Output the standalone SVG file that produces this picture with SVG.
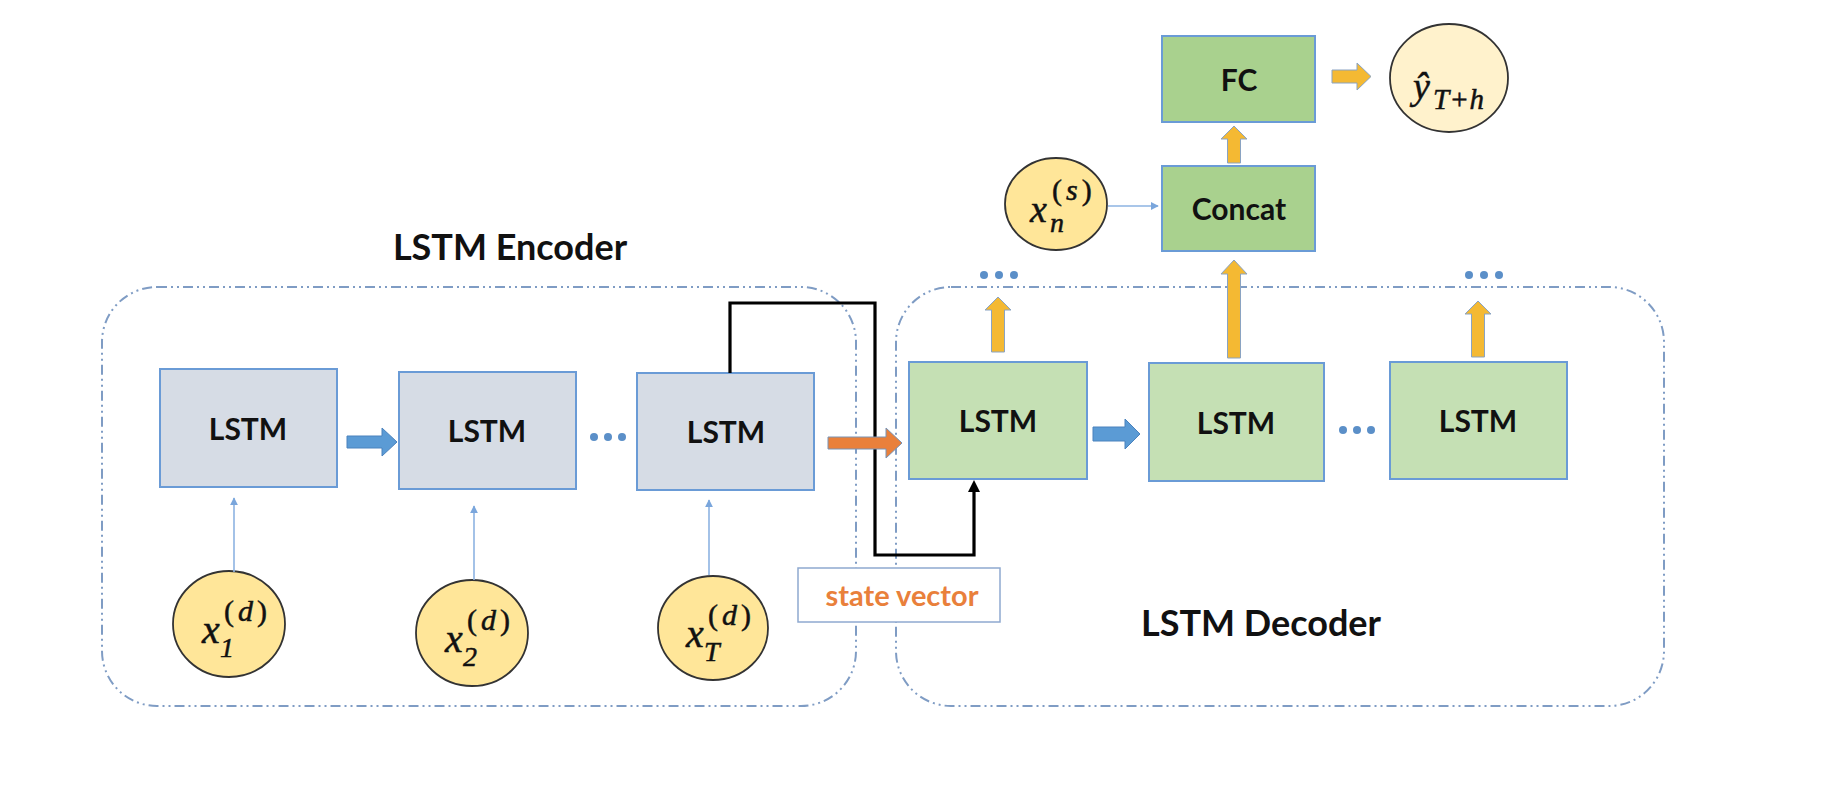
<svg xmlns="http://www.w3.org/2000/svg" width="1830" height="800" viewBox="0 0 1830 800">
<defs>
<style>
.grp{fill:none;stroke:#7f9cc4;stroke-width:2;stroke-dasharray:10 4 2 4 2 4}
.enc{fill:#d6dce5;stroke:#6a9bd6;stroke-width:2}
.dec{fill:#c5e0b4;stroke:#6a9bd6;stroke-width:2}
.top{fill:#a9d18e;stroke:#6a9bd6;stroke-width:2}
.lbl{font-family:Lato,"Liberation Sans",sans-serif;font-weight:bold;font-size:30px;fill:#111;text-anchor:middle}
.ttl{font-family:Lato,"Liberation Sans",sans-serif;font-weight:bold;font-size:36px;fill:#111;text-anchor:middle}
.circ{fill:#ffe699;stroke:#333;stroke-width:1.8}
.circ2{fill:#fff2cc;stroke:#333;stroke-width:1.8}
.math{font-family:"Liberation Serif","DejaVu Serif",serif;font-style:italic;fill:#111;stroke:#111;stroke-width:0.5}
.sup{letter-spacing:4px}
.up{font-style:normal}
.thin{stroke:#8db3e2;stroke-width:1.6;fill:none}
.blk{stroke:#000;stroke-width:3.2;fill:none}
.blue{fill:#5b9bd5;stroke:#4a82bd;stroke-width:1}
.orng{fill:#e9803b;stroke:#7893b5;stroke-width:1}
.yel{fill:#f4b933;stroke:#8aa3c2;stroke-width:1}
.dot{fill:#5b8fc8}
</style>
<marker id="th" viewBox="0 0 10 10" refX="9" refY="5" markerWidth="8" markerHeight="8" markerUnits="userSpaceOnUse" orient="auto"><path d="M0,0 L10,5 L0,10 Z" fill="#7aa6dc"/></marker>
</defs>
<rect width="1830" height="800" fill="#fff"/>

<g id="encoder-group">
<rect class="grp" x="102" y="287" width="754" height="419" rx="55"/>
<text class="ttl" x="510" y="260">LSTM Encoder</text>
</g>
<g id="decoder-group">
<rect class="grp" x="896" y="287" width="768" height="419" rx="55"/>
<text class="ttl" x="1261" y="636">LSTM Decoder</text>
</g>

<g id="enc1"><rect class="enc" x="160" y="369" width="177" height="118"/><text class="lbl" x="248" y="440">LSTM</text></g>
<g id="enc2"><rect class="enc" x="399" y="372" width="177" height="117"/><text class="lbl" x="487" y="442">LSTM</text></g>
<g id="enc3"><rect class="enc" x="637" y="373" width="177" height="117"/><text class="lbl" x="726" y="443">LSTM</text></g>

<g id="dec1"><rect class="dec" x="909" y="362" width="178" height="117"/><text class="lbl" x="998" y="432">LSTM</text></g>
<g id="dec2"><rect class="dec" x="1149" y="363" width="175" height="118"/><text class="lbl" x="1236" y="434">LSTM</text></g>
<g id="dec3"><rect class="dec" x="1390" y="362" width="177" height="117"/><text class="lbl" x="1478" y="432">LSTM</text></g>

<g id="concat"><rect class="top" x="1162" y="166" width="153" height="85"/><text class="lbl" x="1239" y="220">Concat</text></g>
<g id="fc"><rect class="top" x="1162" y="36" width="153" height="86"/><text class="lbl" x="1239" y="91">FC</text></g>

<g id="x1"><ellipse class="circ" cx="229" cy="624" rx="56" ry="53"/>
<text class="math" x="202" y="643" font-size="40">x</text>
<text class="math sup" x="224" y="621" font-size="30"><tspan class="up">(</tspan>d<tspan class="up">)</tspan></text>
<text class="math" x="220" y="657" font-size="28">1</text></g>
<g id="x2"><ellipse class="circ" cx="472" cy="633" rx="56" ry="53"/>
<text class="math" x="445" y="652" font-size="40">x</text>
<text class="math sup" x="467" y="630" font-size="30"><tspan class="up">(</tspan>d<tspan class="up">)</tspan></text>
<text class="math" x="463" y="666" font-size="28">2</text></g>
<g id="xT"><ellipse class="circ" cx="713" cy="628" rx="55" ry="52"/>
<text class="math" x="686" y="647" font-size="40">x</text>
<text class="math sup" x="708" y="625" font-size="30"><tspan class="up">(</tspan>d<tspan class="up">)</tspan></text>
<text class="math" x="704" y="661" font-size="28">T</text></g>
<g id="xs"><ellipse class="circ" cx="1056" cy="204" rx="51" ry="46"/>
<text class="math" x="1030" y="222" font-size="38">x</text>
<text class="math sup" x="1052" y="200" font-size="30"><tspan class="up">(</tspan>s<tspan class="up">)</tspan></text>
<text class="math" x="1050" y="232" font-size="28">n</text></g>
<g id="yhat"><ellipse class="circ2" cx="1449" cy="78" rx="59" ry="54"/>
<text class="math" x="1413" y="99" font-size="38">ŷ</text>
<text class="math" x="1433" y="109" font-size="29" letter-spacing="2">T<tspan class="up">+</tspan>h</text></g>

<g id="state-vector">
<rect x="798" y="568" width="202" height="54" fill="#fff" stroke="#8fa9d0" stroke-width="1.5"/>
<text x="902" y="606" font-family="Lato,'Liberation Sans',sans-serif" font-weight="bold" font-size="29" fill="#e9803b" text-anchor="middle">state vector</text>
</g>

<g id="connectors">
<line class="thin" x1="234" y1="572" x2="234" y2="498" marker-end="url(#th)"/>
<line class="thin" x1="474" y1="580" x2="474" y2="506" marker-end="url(#th)"/>
<line class="thin" x1="709" y1="575" x2="709" y2="500" marker-end="url(#th)"/>
<line class="thin" x1="1108" y1="206" x2="1158" y2="206" marker-end="url(#th)"/>
<polyline class="blk" points="730,373 730,303 875,303 875,555 974,555 974,490"/>
<path d="M968,492 L974,480 L980,492 Z" fill="#000"/>
<path class="blue" d="M347,436 H382 V428 L397,442 L382,456 V448 H347 Z"/>
<path class="blue" d="M1093,427 H1125 V419 L1140,434 L1125,449 V441 H1093 Z"/>
<path class="orng" d="M828,437 H886 V428 L902,443 L886,458 V449 H828 Z"/>
<path class="yel" d="M991.5,352 V310 H985 L998,297 L1011,310 H1004.5 V352 Z"/>
<path class="yel" d="M1227.5,358 V274 H1221 L1234,260 L1247,274 H1240.5 V358 Z"/>
<path class="yel" d="M1471.5,357 V314 H1465 L1478,301 L1491,314 H1484.5 V357 Z"/>
<path class="yel" d="M1227.5,163 V139 H1221 L1234,126 L1247,139 H1240.5 V163 Z"/>
<path class="yel" d="M1332,70 H1357 V63 L1371,76.5 L1357,90 V83 H1332 Z"/>
<circle class="dot" cx="594" cy="437" r="4"/><circle class="dot" cx="608" cy="437" r="4"/><circle class="dot" cx="622" cy="437" r="4"/>
<circle class="dot" cx="1343" cy="430" r="4"/><circle class="dot" cx="1357" cy="430" r="4"/><circle class="dot" cx="1371" cy="430" r="4"/>
<circle class="dot" cx="984" cy="275" r="4"/><circle class="dot" cx="999" cy="275" r="4"/><circle class="dot" cx="1014" cy="275" r="4"/>
<circle class="dot" cx="1469" cy="275" r="4"/><circle class="dot" cx="1484" cy="275" r="4"/><circle class="dot" cx="1499" cy="275" r="4"/>
</g>
</svg>
